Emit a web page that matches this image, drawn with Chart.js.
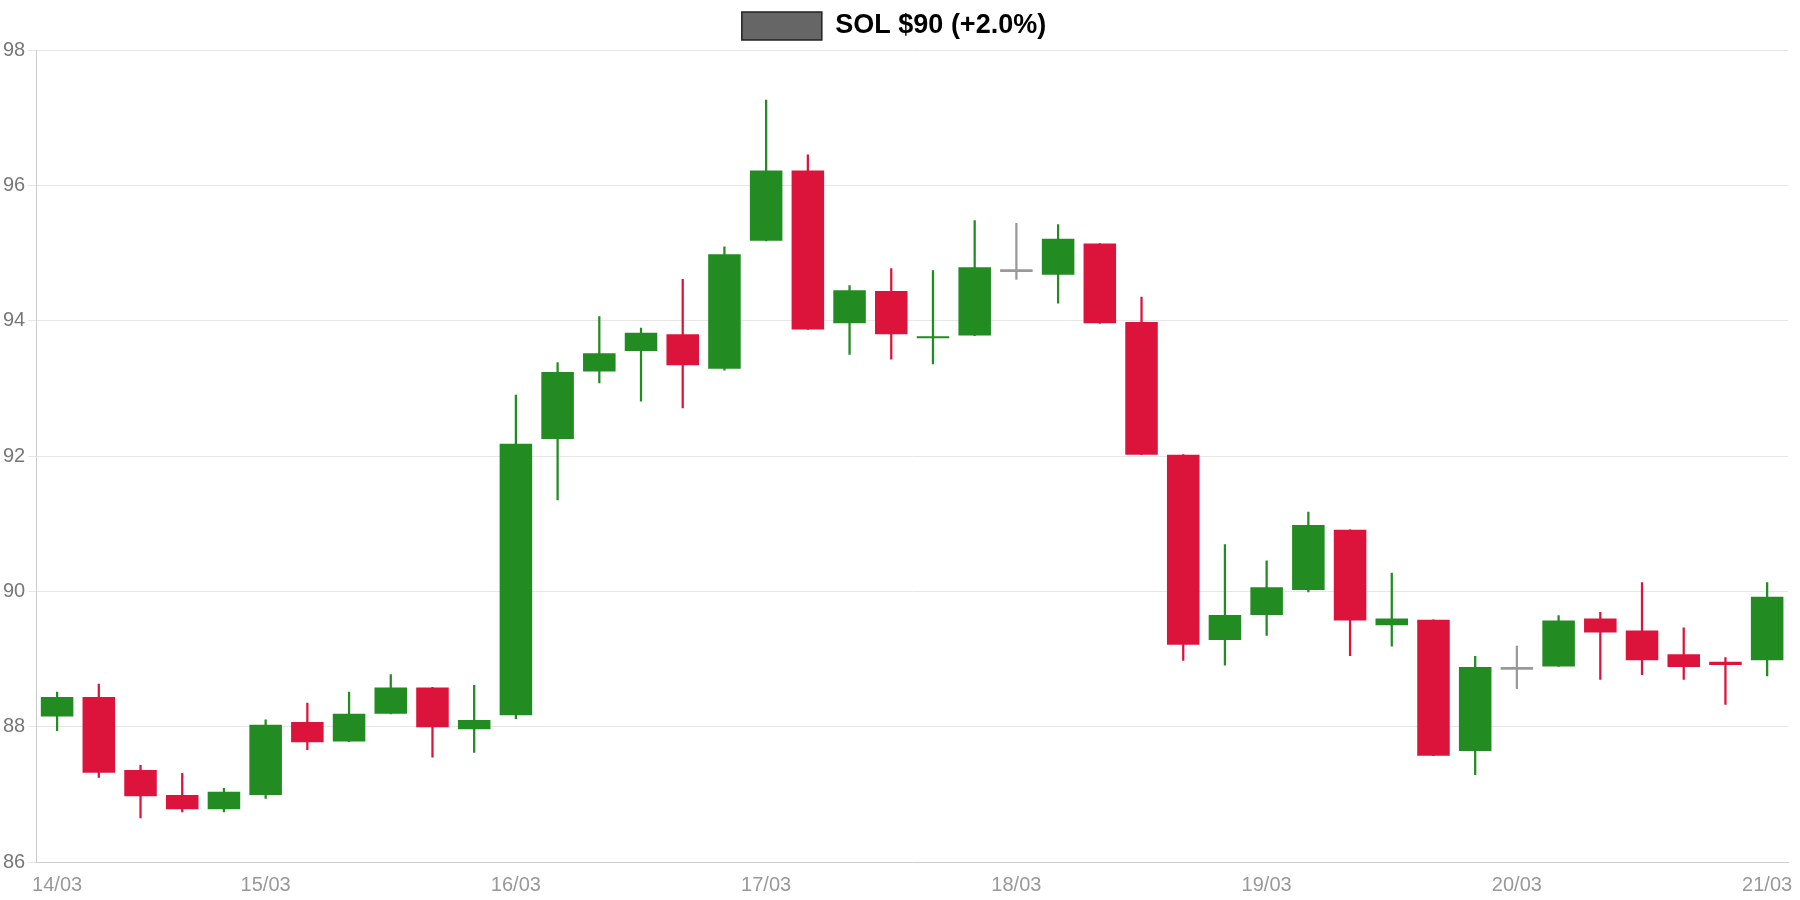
<!DOCTYPE html>
<html><head><meta charset="utf-8">
<script src="https://cdn.jsdelivr.net/npm/chart.js@4"></script>
<style>html,body{margin:0;padding:0;background:#fff}#wrap{width:1800px;height:900px}</style>
</head><body><div id="wrap"><canvas id="c"></canvas></div>
<script>
const opens  = [88.15,88.44,87.36,86.99,86.78,86.99,88.07,87.78,88.19,88.58,87.96,88.17,92.25,93.25,93.55,93.80,93.29,95.18,96.22,93.96,94.44,93.74,93.78,94.74,94.68,95.14,93.98,92.02,89.28,89.65,90.02,90.91,89.50,89.58,87.64,88.86,88.89,89.60,89.42,89.07,88.96,88.98];
const closes = [88.44,87.32,86.97,86.78,87.04,88.03,87.77,88.19,88.58,87.99,88.10,92.18,93.24,93.52,93.82,93.34,94.98,96.22,93.87,94.45,93.80,93.77,94.79,94.74,95.21,93.96,92.02,89.21,89.65,90.06,90.98,89.57,89.60,87.57,88.88,88.86,89.57,89.39,88.98,88.88,88.91,89.92];
const highs  = [88.51,88.63,87.43,87.31,87.09,88.10,88.35,88.51,88.77,88.58,88.61,92.90,93.38,94.06,93.89,94.61,95.09,97.26,96.45,94.52,94.77,94.74,95.48,95.44,95.42,95.14,94.35,92.02,90.69,90.45,91.17,90.91,90.27,89.58,89.04,89.19,89.64,89.69,90.13,89.46,89.02,90.13];
const lows   = [87.94,87.25,86.65,86.74,86.74,86.94,87.66,87.78,88.19,87.55,87.62,88.12,91.35,93.08,92.81,92.71,93.27,95.18,93.87,93.50,93.43,93.36,93.78,94.61,94.26,93.96,92.02,88.98,88.91,89.35,89.99,89.05,89.19,87.57,87.29,88.56,88.89,88.70,88.77,88.70,88.33,88.75];
const dayLabels = {0:'14/03',5:'15/03',11:'16/03',17:'17/03',23:'18/03',29:'19/03',35:'20/03',41:'21/03'};
const categories = opens.map((_, i) => 'c' + i);

const colorOf = i => closes[i] > opens[i] ? '#228B22' : (closes[i] < opens[i] ? '#DC143C' : '#999999');
const bodies = opens.map((o, i) => {
  const c = closes[i];
  return Math.abs(c - o) < 0.03 ? [o - 0.02, o + 0.02] : [o, c];
});
const wicks = lows.map((l, i) => [l, highs[i]]);
const cols = opens.map((_, i) => colorOf(i));

new Chart(document.getElementById('c'), {
  type: 'bar',
  data: {
    labels: categories,
    datasets: [
      { label: 'SOL $90 (+2.0%)', data: bodies, backgroundColor: cols, borderWidth: 0,
        categoryPercentage: 1, barPercentage: 0.78, order: 1 },
      { label: 'wick', data: wicks, backgroundColor: cols, borderWidth: 0,
        barThickness: 1.6, order: 2 }
    ]
  },
  options: {
    responsive: true, maintainAspectRatio: false, animation: false,
    layout: { padding: { right: 12, left: 0, bottom: 0 } },
    grouped: false,
    datasets: { bar: { grouped: false } },
    plugins: {
      legend: {
        labels: {
          filter: it => it.datasetIndex === 0,
          generateLabels: () => [{ text: 'SOL $90 (+2.0%)', fillStyle: '#666666', strokeStyle: '#222', lineWidth: 1.5, datasetIndex: 0 }],
          font: { size: 27, weight: 'bold', family: 'Liberation Sans, Arial' },
          color: '#222', boxWidth: 80, boxHeight: 28, padding: 12
        }
      },
      tooltip: { enabled: false }
    },
    scales: {
      x: {
        offset: true,
        grid: { display: false },
        border: { color: '#ccc' },
        ticks: {
          autoSkip: false, maxRotation: 0,
          color: '#999', font: { size: 20, family: 'Liberation Sans, Arial' },
          callback: (v, i) => dayLabels[i] !== undefined ? dayLabels[i] : ''
        }
      },
      y: {
        min: 86, max: 98,
        ticks: { stepSize: 2, color: '#777', font: { size: 20, family: 'Liberation Sans, Arial' } },
        grid: { color: '#e6e6e6' },
        border: { color: '#ccc' }
      }
    }
  }
});
</script></body></html>
